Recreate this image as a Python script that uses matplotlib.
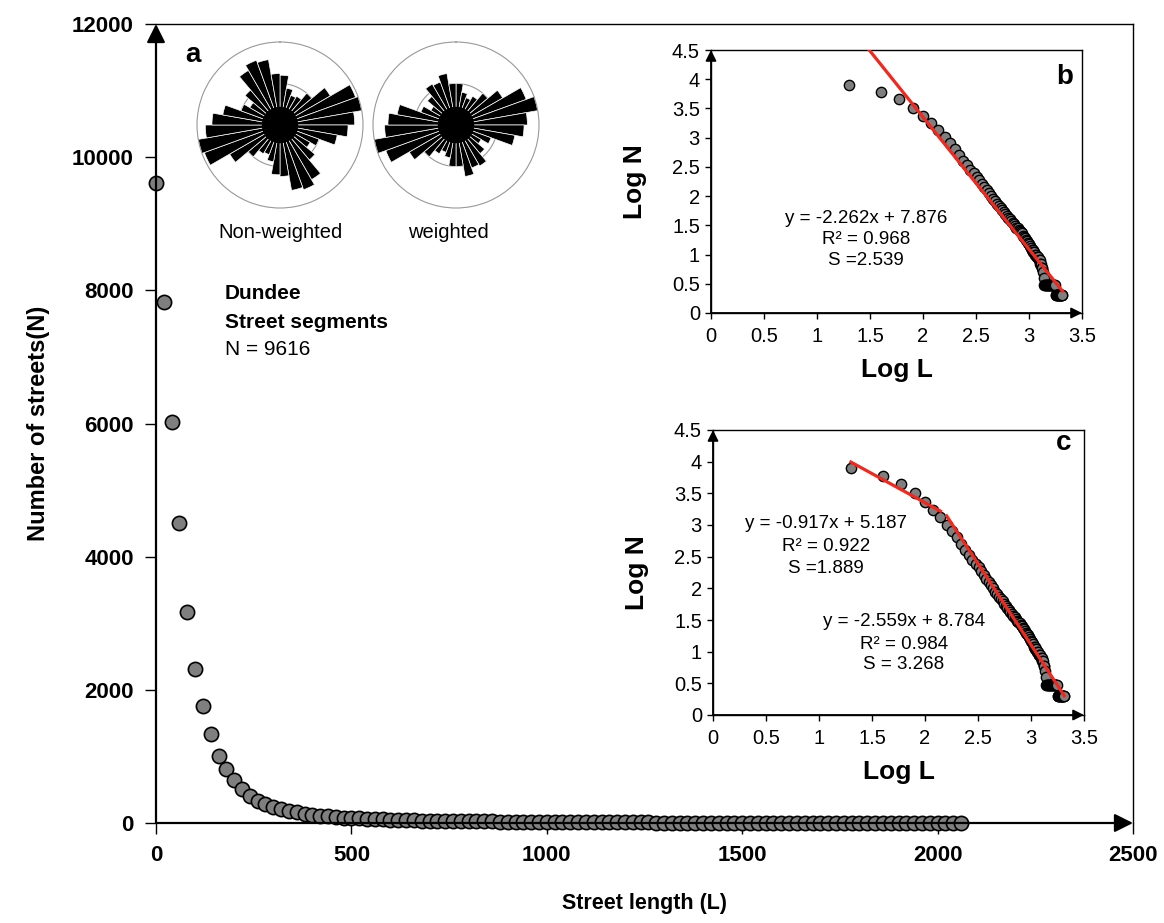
import numpy as np
import matplotlib
matplotlib.use("Agg")
import matplotlib.pyplot as plt
from matplotlib.ticker import FormatStrFormatter

plt.rcParams['font.family'] = ['Liberation Sans', 'DejaVu Sans']

# street length bins (m) and number of streets with length >= bin
lengths = np.arange(0, 2061, 20)
counts = [9616, 7830, 6020, 4510, 3170, 2310, 1750, 1330, 1010, 805,
          645, 510, 405, 335, 285, 245, 215, 186, 162, 141,
          126, 112, 100, 89, 81, 74, 68, 62, 57, 53,
          49, 46, 43, 40, 37, 35, 33, 31, 29, 28,
          26, 25, 24, 23, 21, 20, 19, 18, 17, 16,
          15, 14, 13, 12, 12, 11, 11, 10, 10, 9,
          9, 9, 8, 8, 7, 7, 6, 6, 5, 4,
          3, 3, 3, 3, 3, 3, 3, 3, 3, 3,
          3, 3, 3, 3, 3, 3, 3, 3, 3,
          2, 2, 2, 2, 2, 2, 2, 2, 2, 2,
          2, 2, 2, 2, 2]

# rose diagrams (axial data, azimuth bin centres 0-180 deg, relative length)
rose_bins = np.arange(5, 180, 10)
rose_nonweighted = [0.60, 0.45, 0.38, 0.40, 0.50, 0.70, 0.97, 1.00, 0.90,
                    0.82, 0.70, 0.50, 0.42, 0.55, 0.76, 0.83, 0.80, 0.62]
rose_weighted = [0.50, 0.40, 0.35, 0.40, 0.50, 0.65, 0.90, 1.00, 0.86,
                 0.82, 0.72, 0.45, 0.35, 0.45, 0.57, 0.55, 0.63, 0.50]

# regression lines (slope, intercept)
fit_b = (-2.262, 7.876)
fit_c1 = (-0.917, 5.187)
fit_c2 = (-2.559, 8.784)

W, H = 1164, 923
gray = '#7f7f7f'
red = '#f0281e'


def rect(left, top, right, bottom):
    return [left / W, (H - bottom) / H, (right - left) / W, (bottom - top) / H]


def arrows(ax, lw, ms):
    for xy in [(0, 1), (1, 0)]:
        ax.annotate('', xy=xy, xytext=(0, 0), xycoords='axes fraction',
                    arrowprops=dict(arrowstyle='-|>', color='k', lw=lw,
                                    shrinkA=0, shrinkB=0, mutation_scale=ms))


fig = plt.figure(figsize=(W / 100, H / 100), dpi=100)

# main plot
ax = fig.add_axes(rect(156, 24, 1133, 823))
ax.scatter(lengths, counts, s=105, c=gray, edgecolors='k', linewidths=1.2,
           zorder=3, clip_on=False)
ax.set_xlim(0, 2500)
ax.set_ylim(0, 12000)
ax.set_xticks(range(0, 2501, 500))
ax.set_yticks(range(0, 12001, 2000))
ax.tick_params(direction='out', length=8, width=1, labelsize=16, pad=8)
for lab in ax.get_xticklabels() + ax.get_yticklabels():
    lab.set_fontweight('bold')
for s in ['top', 'right']:
    ax.spines[s].set_linewidth(1)
for s in ['left', 'bottom']:
    ax.spines[s].set_visible(False)
arrows(ax, 1.6, 28)
ax.set_xlabel('Street length (L)', fontsize=15.5, fontweight='bold')
ax.xaxis.set_label_coords(0.5, -0.088)
ax.set_ylabel('Number of streets(N)', fontsize=17, fontweight='bold')
ax.yaxis.set_label_coords(-0.108, 0.5)

ax.text(0.0297, 0.961, 'a', transform=ax.transAxes, fontsize=20,
        fontweight='bold', va='center', ha='left')
ax.text(0.0706, 0.663, 'Dundee', transform=ax.transAxes, fontsize=15,
        fontweight='bold', va='center')
ax.text(0.0706, 0.627, 'Street segments', transform=ax.transAxes, fontsize=15,
        fontweight='bold', va='center')
ax.text(0.0706, 0.592, 'N = 9616', transform=ax.transAxes, fontsize=15,
        va='center')

# rose diagrams
for cx, vals, label, lx in [(280, rose_nonweighted, 'Non-weighted', 280),
                            (456, rose_weighted, 'weighted', 448)]:
    rax = fig.add_axes(rect(cx - 83, 42, cx + 83, 208), projection='polar')
    theta = np.deg2rad(np.concatenate([rose_bins, rose_bins + 180]))
    r = np.concatenate([vals, vals])
    rax.bar(theta, r, width=np.deg2rad(10), color='k', edgecolor='white',
            linewidth=0.5)
    rax.bar(0, 0.22, width=2 * np.pi, color='k', linewidth=0)
    rax.set_theta_zero_location('N')
    rax.set_theta_direction(-1)
    rax.set_ylim(0, 1)
    rax.set_xticks([])
    rax.set_yticks([0.5])
    rax.set_yticklabels([])
    rax.set_axisbelow(True)
    rax.yaxis.grid(True, color='#999999', lw=0.8)
    rax.spines['polar'].set_color('#999999')
    rax.spines['polar'].set_linewidth(0.8)
    fig.text(lx / W, 1 - 233 / H, label, fontsize=14.5, ha='center',
             va='center')

logL = np.log10(lengths[1:])
logN = np.log10(counts[1:])


def inset(box, letter, letter_xy):
    a = fig.add_axes(box)
    a.scatter(logL, logN, s=55, c=gray, edgecolors='k', linewidths=1,
              zorder=3, clip_on=False)
    a.set_xlim(0, 3.5)
    a.set_ylim(0, 4.5)
    a.set_xticks(np.arange(0, 3.51, 0.5))
    a.set_yticks(np.arange(0, 4.51, 0.5))
    a.xaxis.set_major_formatter(FormatStrFormatter('%g'))
    a.yaxis.set_major_formatter(FormatStrFormatter('%g'))
    a.tick_params(direction='out', length=4, width=1, labelsize=14.5)
    a.tick_params(axis='x', pad=6)
    a.tick_params(axis='y', pad=4)
    for s in a.spines.values():
        s.set_linewidth(1)
    arrows(a, 1.3, 16)
    a.set_xlabel('Log L', fontsize=19, fontweight='bold', labelpad=9)
    a.set_ylabel('Log N', fontsize=19, fontweight='bold', labelpad=18)
    a.text(letter_xy[0], letter_xy[1], letter, fontsize=20, fontweight='bold',
           ha='center', va='center')
    return a


def fit_line(a, fit, x0, x1):
    xs = np.array([x0, x1])
    a.plot(xs, fit[0] * xs + fit[1], color=red, lw=2.3, zorder=4)


axb = inset(rect(711, 50, 1082, 313), 'b', (3.34, 4.04))
fit_line(axb, fit_b, (4.5 - fit_b[1]) / fit_b[0], logL.max())
for y, t in [(1.62, 'y = -2.262x + 7.876'), (1.26, 'R² = 0.968'),
             (0.89, 'S =2.539')]:
    axb.text(1.46, y, t, fontsize=13.5, ha='center', va='center')

axc = inset(rect(713, 430, 1084, 715), 'c', (3.31, 4.3))
fit_line(axc, fit_c1, logL.min(), np.log10(140))
fit_line(axc, fit_c2, np.log10(160), logL.max())
for y, t in [(3.02, 'y = -0.917x + 5.187'), (2.66, 'R² = 0.922'),
             (2.31, 'S =1.889')]:
    axc.text(1.065, y, t, fontsize=13.5, ha='center', va='center')
for y, t in [(1.48, 'y = -2.559x + 8.784'), (1.12, 'R² = 0.984'),
             (0.80, 'S = 3.268')]:
    axc.text(1.80, y, t, fontsize=13.5, ha='center', va='center')

fig.savefig('out.png', dpi=100)
